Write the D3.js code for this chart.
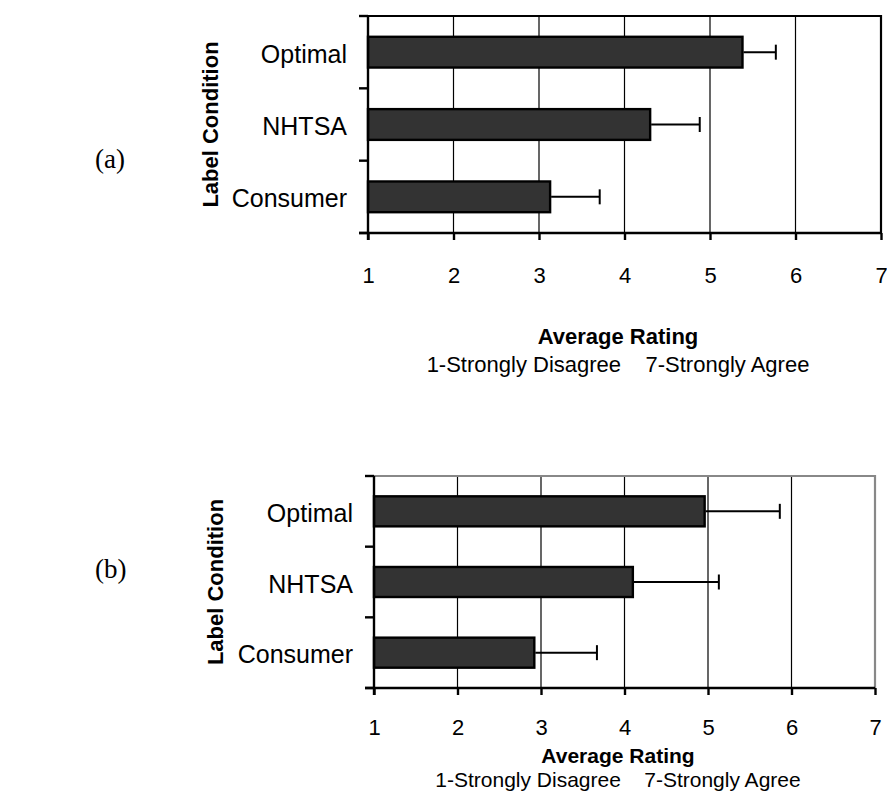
<!DOCTYPE html>
<html>
<head>
<meta charset="utf-8">
<script src="https://cdn.jsdelivr.net/npm/d3@7"></script>
<style>
  body { margin: 0; background: #fff; }
  svg { display: block; }
</style>
</head>
<body>
<div id="chart"></div>
<script>
// data
const categories = ["Optimal", "NHTSA", "Consumer"];
const meansA = [5.38, 4.30, 3.13];
const errorsA = [0.39, 0.58, 0.58];
const meansB = [4.96, 4.10, 2.92];
const errorsB = [0.90, 1.03, 0.75];
const xTicks = [1, 2, 3, 4, 5, 6, 7];
const axisTitle = "Average Rating";
const axisSubtitle = "1-Strongly Disagree    7-Strongly Agree";
const yTitle = "Label Condition";

const sans = "Liberation Sans, Arial, sans-serif";

const svg = d3.select("#chart").append("svg")
  .attr("width", 887)
  .attr("height", 792);

function panel(opts) {
  const { tag, means, errors, left, right, top, bottom, tagX, tagY, yTitleX, tickY, titleY, subY, titleSize, borderColor } = opts;

  const x = d3.scaleLinear().domain([1, 7]).range([left, right]);
  const y = d3.scaleBand().domain(categories).range([top, bottom]).paddingInner(0.575).paddingOuter(0.2875);
  const band = d3.scaleBand().domain(categories).range([top, bottom]);

  const g = svg.append("g");

  // gridlines
  g.append("g").selectAll("line").data(xTicks.slice(1, -1))
    .enter().append("line")
      .attr("x1", d => x(d)).attr("x2", d => x(d))
      .attr("y1", top).attr("y2", bottom)
      .attr("stroke", "#000").attr("stroke-width", 1.2);

  // plot border (top and right)
  g.append("path")
    .attr("d", `M${left},${top}H${right}V${bottom}`)
    .attr("fill", "none").attr("stroke", borderColor).attr("stroke-width", 2.2);

  // bars
  g.append("g").selectAll("rect").data(categories)
    .enter().append("rect")
      .attr("x", x(1))
      .attr("y", d => y(d))
      .attr("width", (d, i) => x(means[i]) - x(1))
      .attr("height", y.bandwidth())
      .attr("fill", "#333333")
      .attr("stroke", "#000").attr("stroke-width", 2.4);

  // error bars
  const eb = g.append("g").selectAll("g").data(categories).enter().append("g");
  const mid = d => y(d) + y.bandwidth() / 2;
  eb.append("line")
    .attr("x1", (d, i) => x(means[i]) + 1).attr("x2", (d, i) => x(means[i] + errors[i]))
    .attr("y1", mid).attr("y2", mid)
    .attr("stroke", "#000").attr("stroke-width", 2);
  eb.append("line")
    .attr("x1", (d, i) => x(means[i] + errors[i])).attr("x2", (d, i) => x(means[i] + errors[i]))
    .attr("y1", d => mid(d) - 7.5).attr("y2", d => mid(d) + 7.5)
    .attr("stroke", "#000").attr("stroke-width", 2);

  // x axis
  const xAxis = g.append("g")
    .attr("transform", `translate(0,${bottom})`)
    .call(d3.axisBottom(x).tickValues(xTicks).tickFormat(d3.format("d")).tickSizeInner(7).tickSizeOuter(0));
  xAxis.select(".domain").attr("stroke-width", 2.4).attr("d", `M${left - 9},0H${right}`);
  xAxis.selectAll(".tick line").attr("stroke-width", 2.4);
  xAxis.selectAll("text")
    .attr("y", tickY - bottom)
    .attr("dy", "0.36em")
    .attr("font-family", sans)
    .attr("font-size", 22).attr("fill", "#000");

  // y axis: ticks sit on the band edges
  const yAxis = g.append("g").attr("transform", `translate(${left},0)`);
  yAxis.append("line")
    .attr("x1", 0).attr("x2", 0).attr("y1", top).attr("y2", bottom + 7)
    .attr("stroke", "#000").attr("stroke-width", 2.4);
  yAxis.selectAll(".edge").data(categories.concat(["end"]))
    .enter().append("line")
      .attr("x1", -9).attr("x2", 0)
      .attr("y1", d => d === "end" ? bottom : band(d))
      .attr("y2", d => d === "end" ? bottom : band(d))
      .attr("stroke", "#000").attr("stroke-width", 2.4);
  yAxis.selectAll(".lab").data(categories)
    .enter().append("text")
      .attr("x", -21)
      .attr("y", d => band(d) + band.bandwidth() / 2)
      .attr("dy", "0.42em")
      .attr("text-anchor", "end")
      .attr("font-family", sans)
      .attr("font-size", 25)
      .text(d => d);

  // axis titles
  g.append("text")
    .attr("transform", `translate(${yTitleX},${(top + bottom) / 2}) rotate(-90)`)
    .attr("text-anchor", "middle")
    .attr("font-family", sans)
    .attr("font-weight", "bold").attr("font-size", 22)
    .text(yTitle);

  const cx = 618;
  g.append("text")
    .attr("x", cx).attr("y", titleY)
    .attr("text-anchor", "middle")
    .attr("font-family", sans)
    .attr("font-weight", "bold").attr("font-size", titleSize)
    .text(axisTitle);
  g.append("text")
    .attr("x", cx).attr("y", subY)
    .attr("text-anchor", "middle")
    .attr("font-family", sans)
    .attr("font-size", titleSize)
    .style("white-space", "pre")
    .text(axisSubtitle);

  // panel tag
  g.append("text")
    .attr("x", tagX).attr("y", tagY)
    .attr("font-family", "Liberation Serif, Times New Roman, serif")
    .attr("font-size", 27)
    .text(tag);
}

panel({ tag: "(a)", means: meansA, errors: errorsA,
  left: 368, right: 881, top: 16, bottom: 233,
  tagX: 95, tagY: 168, yTitleX: 218, tickY: 275, titleY: 344, subY: 372, titleSize: 22, borderColor: "#000" });

panel({ tag: "(b)", means: meansB, errors: errorsB,
  left: 374, right: 875, top: 476, bottom: 688,
  tagX: 95, tagY: 578, yTitleX: 223, tickY: 727, titleY: 763, subY: 787, titleSize: 21, borderColor: "#888" });
</script>
</body>
</html>
